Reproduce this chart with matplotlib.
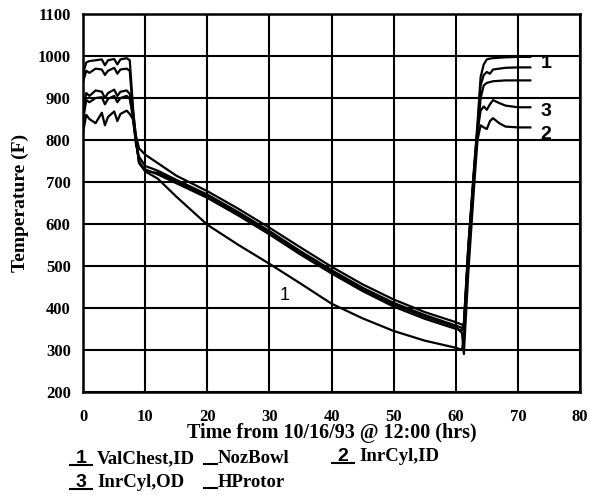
import matplotlib
matplotlib.use("Agg")
import matplotlib.pyplot as plt
from matplotlib.lines import Line2D

# time in hours from 10/16/93 @ 12:00
time = [0, 0.5, 1, 2, 3, 3.5, 4, 5, 5.5, 6, 7, 7.5,
        8, 8.5, 9, 10, 12, 15, 20, 25, 30, 35, 40, 45, 50, 55,
        60, 61, 61.3, 62, 63, 63.5, 64, 64.5, 65, 65.5, 66, 67, 68, 70, 72]

# temperatures (F)
valchest_id = [960, 985, 988, 990, 992, 978, 990, 993, 980, 992, 995, 990,
               880, 800, 745, 725, 708, 665, 598, 550, 505, 458, 410, 375, 345, 322,
               305, 300, 330, 540, 745, 840, 950, 980, 992, 994, 995, 996, 997, 998, 998]
nozbowl = [940, 965, 960, 970, 968, 955, 965, 972, 958, 968, 970, 965,
           870, 810, 780, 765, 745, 715, 678, 636, 591, 544, 498, 456, 420, 390,
           366, 360, 362, 545, 740, 830, 930, 955, 962, 958, 968, 970, 972, 973, 973]
hprotor = [880, 912, 905, 918, 915, 900, 912, 920, 905, 915, 918, 910,
           860, 790, 760, 738, 727, 705, 670, 628, 583, 535, 490, 448, 412, 383,
           358, 352, 360, 535, 730, 815, 900, 930, 936, 938, 940, 941, 942, 942, 942]
inrcyl_od = [850, 895, 890, 900, 902, 885, 898, 905, 890, 900, 905, 898,
             855, 800, 745, 730, 718, 697, 662, 620, 575, 527, 482, 440, 403, 374,
             350, 346, 355, 530, 735, 820, 870, 880, 872, 885, 895, 888, 882, 878, 878]
inrcyl_id = [820, 860, 850, 840, 865, 835, 855, 868, 845, 862, 870, 862,
             850, 795, 750, 725, 722, 701, 666, 624, 579, 531, 486, 444, 408, 379,
             355, 340, 290, 480, 700, 800, 835, 830, 826, 845, 852, 840, 832, 830, 830]

xticks = [0, 10, 20, 30, 40, 50, 60, 70, 80]
yticks = [200, 300, 400, 500, 600, 700, 800, 900, 1000, 1100]

serif = "Liberation Serif"
sans = "Liberation Sans"

fig = plt.figure(figsize=(5.9, 5.03), dpi=100)
ax = fig.add_axes([0.141, 0.221, 0.842, 0.751])

for series in [valchest_id, nozbowl, hprotor, inrcyl_od, inrcyl_id]:
    ax.plot(time, series, color="black", lw=1.6)

ax.set_xlim(0, 80)
ax.set_ylim(200, 1100)
ax.set_xticks(xticks)
ax.set_yticks(yticks)
ax.grid(True, color="black", lw=1.5)
ax.tick_params(length=0)
ax.tick_params(axis="x", pad=12)
ax.tick_params(axis="y", pad=9)
for lab in ax.get_xticklabels() + ax.get_yticklabels():
    lab.set_fontfamily(serif)
    lab.set_fontweight("bold")
    lab.set_fontsize(12)
for sp in ax.spines.values():
    sp.set_linewidth(1.8)

ax.set_xlabel("Time from 10/16/93 @ 12:00 (hrs)", fontfamily=serif,
              fontweight="bold", fontsize=14.5, labelpad=-1)
ax.set_ylabel("Temperature (F)", fontfamily=serif, fontweight="bold",
              fontsize=14, labelpad=6)

# curve labels
ax.text(32.5, 430, "1", fontfamily=sans, fontsize=13, ha="center", va="center")
ax.text(74.5, 982, "1", fontfamily=sans, fontsize=14, fontweight="bold",
        ha="center", va="center", clip_on=False)
ax.text(74.5, 868, "3", fontfamily=sans, fontsize=14, fontweight="bold",
        ha="center", va="center", clip_on=False)
ax.text(74.5, 812, "2", fontfamily=sans, fontsize=14, fontweight="bold",
        ha="center", va="center", clip_on=False)

# legend drawn by hand under the axes
W, H = 590, 503


def fx(px):
    return px / W


def fy(py):
    return 1 - py / H


def legend_item(x, y, num, label):
    if num:
        fig.text(fx(x + 10), fy(y), num, fontfamily=sans, fontsize=14,
                 fontweight="bold", ha="center", va="baseline")
        fig.add_artist(Line2D([fx(x - 1), fx(x + 21)], [fy(y + 2), fy(y + 2)],
                              color="black", lw=1.5))
        fig.text(fx(x + 26), fy(y), label, fontfamily=serif, fontsize=13.5,
                 fontweight="bold", ha="left", va="baseline")
    else:
        fig.add_artist(Line2D([fx(x), fx(x + 13)], [fy(y + 1), fy(y + 1)],
                              color="black", lw=1.5))
        fig.text(fx(x + 14), fy(y), label, fontfamily=serif, fontsize=13.5,
                 fontweight="bold", ha="left", va="baseline")


legend_item(71, 463, "1", "ValChest,ID")
legend_item(204, 463, None, "NozBowl")
legend_item(333, 461, "2", "InrCyl,ID")
legend_item(71, 487, "3", "InrCyl,OD")
legend_item(204, 487, None, "HProtor")

fig.savefig("out.png", dpi=100)
